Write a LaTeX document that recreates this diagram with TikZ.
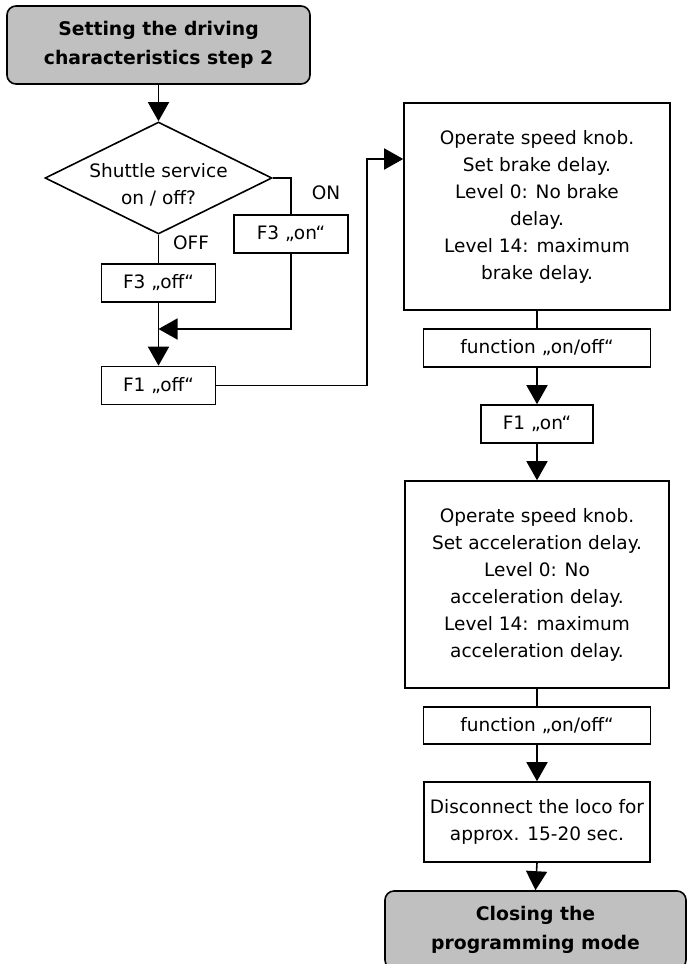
\documentclass[tikz,border=0pt]{standalone}
\usepackage{fontspec}
\setmainfont{DejaVu Sans}
\usetikzlibrary{arrows.meta,shapes.geometric}
\definecolor{boxgray}{RGB}{192,192,192}
\newcommand\myfs{\fontsize{18.5}{27}\selectfont}
\newcommand\mybf{\fontsize{18.8}{29}\selectfont\bfseries}
\begin{document}
\begin{tikzpicture}[x=1pt,y=-1pt,
  every node/.style={inner sep=0pt},
  box/.style={draw, line width=1.6pt, rectangle, align=center, font=\myfs},
  term/.style={draw, line width=1.6pt, rectangle, rounded corners=9pt, fill=boxgray, align=center, font=\mybf},
  txt/.style={align=center, font=\myfs},
  conn/.style={line width=1.6pt},
  arr/.style={line width=1.6pt, -{Triangle[length=19pt,width=21pt]}}]
\useasboundingbox (0,0) rectangle (687,964);
% left column
\node[term, minimum width=303pt, minimum height=78pt] (start) at (158.5,45) {Setting the driving\\characteristics step 2};
\node[diamond, draw, line width=1.6pt, minimum width=227pt, minimum height=112pt] (dec) at (158.5,178) {};
\node[txt] (dect) at (158.5,185) {Shuttle service\\on / off?};
\node[box, minimum width=114pt, minimum height=38pt] (f3on) at (291,234) {F3 „on“};
\node[box, minimum width=114pt, minimum height=38pt] (f3off) at (158.5,283) {F3 „off“};
\node[box, minimum width=114pt, minimum height=38pt] (f1off) at (158.5,385.5) {F1 „off“};
\node[txt] (lon) at (326,193) {ON};
\node[txt] (loff) at (191,243) {OFF};
\coordinate (m) at (158.5,329);
\coordinate (j1) at (367,159);
% right column
\node[box, minimum width=266pt, minimum height=207pt] (b1) at (537,206.5) {Operate speed knob.\\Set brake delay.\\Level 0: No brake\\delay.\\Level 14: maximum\\brake delay.};
\node[box, minimum width=227pt, minimum height=38pt] (fn1) at (537,348) {function „on/off“};
\node[box, minimum width=112pt, minimum height=38pt] (f1on) at (537,424) {F1 „on“};
\node[box, minimum width=264pt, minimum height=207pt] (b2) at (537,584.5) {Operate speed knob.\\Set acceleration delay.\\Level 0: No\\acceleration delay.\\Level 14: maximum\\acceleration delay.};
\node[box, minimum width=227pt, minimum height=37pt] (fn2) at (537,725.5) {function „on/off“};
\node[box, minimum width=226pt, minimum height=80pt] (disc) at (537,822) {Disconnect the loco for\\approx. 15-20 sec.};
\node[term, minimum width=301pt, minimum height=78pt] (close) at (535.5,930) {Closing the\\programming mode};
% connectors
\draw[arr] (start.south) -- (dec.north);
\draw[conn] (dec.east) -| (f3on.north);
\draw[conn] (dec.south) -- (f3off.north);
\draw[arr] (f3off.south) -- (f1off.north);
\draw[arr] (f3on.south) |- (m);
\draw[arr] (f1off.east) -| (j1) -- (j1 -| b1.west);
\draw[conn] (b1.south) -- (fn1.north);
\draw[arr] (fn1.south) -- (f1on.north);
\draw[arr] (f1on.south) -- (b2.north);
\draw[conn] (b2.south) -- (fn2.north);
\draw[arr] (fn2.south) -- (disc.north);
\draw[arr] (disc.south) -- (close.north);
\end{tikzpicture}
\end{document}
